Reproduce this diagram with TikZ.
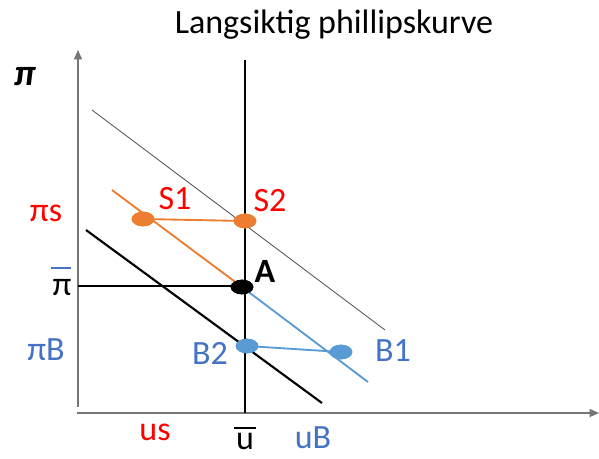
\documentclass[tikz,border=0pt]{standalone}
\usepackage{fontspec}
\setmainfont{Carlito}
\usetikzlibrary{arrows.meta,shapes.geometric}
\definecolor{orng}{HTML}{ED7D31}
\definecolor{lblue}{HTML}{5B9BD5}
\definecolor{tblue}{HTML}{4472C4}
\definecolor{axgray}{HTML}{767676}
\begin{document}
\begin{tikzpicture}[x=0.75pt,y=-0.75pt,
  axis/.style={draw=axgray,line width=0.9pt,-{Triangle[length=7pt,width=6pt]}},
  blk/.style={draw=black,line width=1.6pt},
  dot/.style={ellipse,minimum width=17pt,minimum height=11pt,inner sep=0pt},
  lbl/.style={font=\fontsize{25.5}{28}\selectfont,inner sep=0pt}]
\useasboundingbox (0,0) rectangle (599,458);
\node[font=\fontsize{25.5}{28}\selectfont] (title) at (334,25) {Langsiktig phillipskurve};
% axes
\coordinate (y0) at (78,407);
\coordinate (y1) at (78,50);
\coordinate (x0) at (77,413);
\coordinate (x1) at (599,413);
\draw[axis] (y0) -- (y1);
\draw[axis] (x0) -- (x1);
% lines
\coordinate (g0) at (92,110); \coordinate (g1) at (385,330);
\draw[draw=black!70,line width=0.6pt] (g0) -- (g1);
\coordinate (k0) at (86,230); \coordinate (k1) at (322,403);
\draw[blk] (k0) -- (k1);
\coordinate (v0) at (245,60); \coordinate (v1) at (245,413);
\draw[blk] (v0) -- (v1);
% points
\node[dot,fill=orng] (S1) at (143,219) {};
\node[dot,fill=orng] (S2) at (245,221) {};
\node[dot,fill=black] (A) at (242,287) {};
\node[dot,fill=lblue] (B2) at (247,346) {};
\node[dot,fill=lblue] (B1) at (341,352) {};
\coordinate (h0) at (78,286);
\coordinate (h1) at (242,286);
\draw[blk] (h0) -- (h1);
\coordinate (o0) at (112,190);
\draw[orng,line width=1.4pt] (o0) -- (A.center);
\draw[orng,line width=1.4pt] (S1.center) -- (S2.center);
\coordinate (b1) at (368,382);
\draw[lblue,line width=1.4pt] (A.center) -- (b1);
\draw[lblue,line width=1.4pt] (B2.center) -- (B1.center);
% redraw dots on top
\node[dot,fill=orng] at (S1) {};
\node[dot,fill=orng] at (S2) {};
\node[dot,fill=black] at (A) {};
\node[dot,fill=lblue] at (B2) {};
\node[dot,fill=lblue] at (B1) {};
% labels
\node[lbl,red] (lS1) at (175,199) {S1};
\node[lbl,red] (lS2) at (270,201) {S2};
\node[lbl,font=\fontsize{25.5}{28}\selectfont\bfseries] (lA) at (265,271) {A};
\node[lbl,tblue] (lB2) at (210,353) {B2};
\node[lbl,tblue] (lB1) at (393,351) {B1};
\node[lbl,font=\fontsize{28}{30}\selectfont\bfseries\itshape] (pi) at (25,77) {π};
\node[lbl,red] (pis) at (46,213) {πs};
\node[lbl] (pibar) at (62,288) {π};
\coordinate (ob0) at (51,268); \coordinate (ob1) at (71,268);
\draw[tblue,line width=0.8pt] (ob0) -- (ob1);
\node[lbl,tblue] (piB) at (46,350) {πB};
\node[lbl,red] (us) at (155,432) {us};
\node[lbl] (ubar) at (245,441) {u};
\coordinate (ub0) at (234,428); \coordinate (ub1) at (256,428);
\draw[black,line width=0.8pt] (ub0) -- (ub1);
\node[lbl,tblue] (uB) at (313,438) {uB};
\end{tikzpicture}
\end{document}
